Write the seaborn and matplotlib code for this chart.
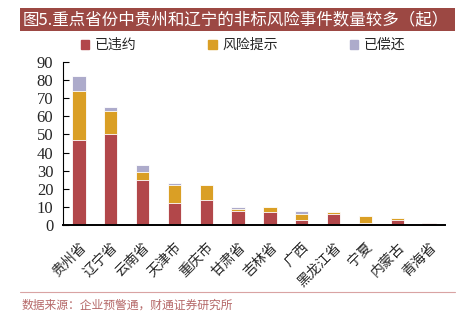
import matplotlib
matplotlib.use("Agg")
import matplotlib.pyplot as plt
import matplotlib.patches as mpatches
import seaborn as sns
import numpy as np
import pandas as pd

provinces = ["贵州省", "辽宁省", "云南省", "天津市", "重庆市", "甘肃省",
             "吉林省", "广西", "黑龙江省", "宁夏", "内蒙古", "青海省"]
defaulted = [47, 50, 25, 12, 14, 8, 7, 3, 6, 1, 3, 1]
risk_alert = [27, 13, 4, 10, 8, 1, 3, 3, 1, 4, 1, 0]
repaid = [8, 2, 4, 1, 0, 1, 0, 2, 0, 0, 0, 0]
series_names = ["已违约", "风险提示", "已偿还"]
y_ticks = list(range(0, 91, 10))

c_red = "#B2474A"
c_orange = "#DA9F25"
c_purple = "#ADABCB"

sns.set_theme(style="white")
plt.rcParams["font.family"] = ["Noto Sans CJK SC", "DejaVu Sans"]

df = pd.DataFrame({"省份": provinces,
                   "已违约": defaulted,
                   "风险提示": risk_alert,
                   "已偿还": repaid})
df["lvl1"] = df["已违约"]
df["lvl2"] = df["已违约"] + df["风险提示"]
df["lvl3"] = df["lvl2"] + df["已偿还"]

W, H = 467, 326
fig = plt.figure(figsize=(W / 100, H / 100), dpi=100)
ax = fig.add_axes([63 / W, (H - 225) / H, (445 - 63) / W, (225 - 62) / H])

# stacked bars: draw cumulative totals from the top layer down
for col, color in [("lvl3", c_purple), ("lvl2", c_orange), ("lvl1", c_red)]:
    sns.barplot(data=df, x="省份", y=col, color=color, width=0.42,
                edgecolor="white", linewidth=0.6, saturation=1, ax=ax,
                order=provinces)

ax.set_xlim(-0.5, len(provinces) - 0.5)
ax.set_ylim(0, 90)
ax.set_yticks(y_ticks)
ax.set_yticklabels([str(t) for t in y_ticks],
                   fontfamily=["Liberation Serif"], fontsize=12)
ax.set_xlabel("")
ax.set_ylabel("")
ax.set_xticks(range(len(provinces)))
ax.set_xticklabels(provinces, rotation=45, ha="right", rotation_mode="anchor",
                   fontsize=10)
ax.tick_params(axis="x", length=0, pad=11)
ax.tick_params(axis="y", length=4, width=0.8, color="black", direction="in",
               left=True, pad=7)
for s in ["top", "right"]:
    ax.spines[s].set_visible(False)
ax.spines["left"].set_color("black")
ax.spines["left"].set_linewidth(0.8)
ax.spines["bottom"].set_color("black")
ax.spines["bottom"].set_linewidth(1.4)

# title banner
fig.patches.append(mpatches.Rectangle((20 / W, (H - 31) / H),
                                      (455 - 20) / W, 23 / H,
                                      transform=fig.transFigure,
                                      facecolor="#9C4843", edgecolor="none"))
title = fig.text(23 / W, (H - 19.5) / H,
                 "图5.重点省份中贵州和辽宁的非标风险事件数量较多（起）",
                 color="white", fontsize=12, va="center", ha="left")
# scale the title so it fills the banner width
renderer = fig.canvas.get_renderer()
tw = title.get_window_extent(renderer).width
title.set_fontsize(12 * 426 / tw)

# legend
handles = [mpatches.Patch(color=c, label=n)
           for c, n in zip([c_red, c_orange, c_purple], series_names)]
fig.legend(handles=handles, loc="center", ncol=3,
           bbox_to_anchor=(243 / W, (H - 45) / H), frameon=False,
           fontsize=10, handlelength=0.6, handleheight=0.6,
           handletextpad=0.4, columnspacing=5.2)

# footer
fig.add_artist(plt.Line2D([20 / W, 455 / W], [(H - 292) / H] * 2,
                          transform=fig.transFigure, color="#D9A3A3",
                          linewidth=0.8))
fig.text(22 / W, (H - 305) / H, "数据来源：企业预警通，财通证券研究所",
         color="#B56868", fontsize=8.5, va="center", ha="left")

fig.savefig("out.png", dpi=100)
